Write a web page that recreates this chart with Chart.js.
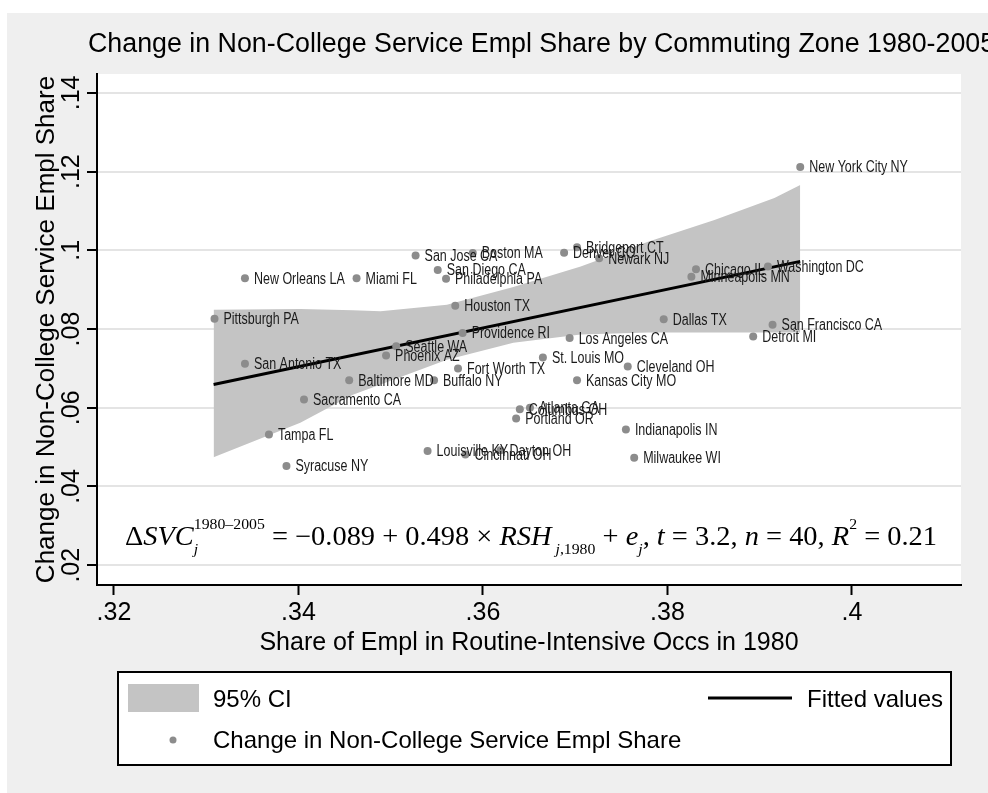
<!DOCTYPE html>
<html>
<head>
<meta charset="utf-8">
<script src="https://cdn.jsdelivr.net/npm/chart.js@4.4.1/dist/chart.umd.min.js"></script>
<style>
  html, body { margin: 0; padding: 0; background: #ffffff; }
  canvas { display: block; }
</style>
</head>
<body>
<canvas id="svcChart" width="988" height="793"></canvas>
<script>
// axis ticks
const xTicks = [0.32, 0.34, 0.36, 0.38, 0.40];
const xTickLabels = ['.32', '.34', '.36', '.38', '.4'];
const yTicks = [0.02, 0.04, 0.06, 0.08, 0.10, 0.12, 0.14];
const yTickLabels = ['.02', '.04', '.06', '.08', '.1', '.12', '.14'];

// commuting zones
const cityNames = [
  'Pittsburgh PA', 'New Orleans LA', 'Miami FL', 'San Antonio TX', 'Sacramento CA',
  'Baltimore MD', 'Buffalo NY', 'Phoenix AZ', 'Seattle WA', 'San Jose CA',
  'San Diego CA', 'Philadelphia PA', 'Boston MA', 'Houston TX', 'Providence RI',
  'Fort Worth TX', 'St. Louis MO', 'Los Angeles CA', 'Kansas City MO', 'Cleveland OH',
  'Dallas TX', 'Denver CO', 'Bridgeport CT', 'Newark NJ', 'Chicago IL',
  'Minneapolis MN', 'Washington DC', 'New York City NY', 'San Francisco CA', 'Detroit MI',
  'Tampa FL', 'Syracuse NY', 'Louisville KY', 'Cincinnati OH', 'Dayton OH',
  'Columbus OH', 'Atlanta GA', 'Portland OR', 'Indianapolis IN', 'Milwaukee WI'
];
const routineShare = [
  0.3309, 0.3342, 0.3463, 0.3342, 0.3406,
  0.3455, 0.3547, 0.3495, 0.3506, 0.3527,
  0.3551, 0.3560, 0.3589, 0.3570, 0.3578,
  0.3573, 0.3665, 0.3694, 0.3702, 0.3757,
  0.3796, 0.3688, 0.3702, 0.3726, 0.3831,
  0.3826, 0.3909, 0.3944, 0.3914, 0.3893,
  0.3368, 0.3387, 0.3540, 0.3581, 0.3619,
  0.3640, 0.3651, 0.3636, 0.3755, 0.3764
];
const serviceChange = [
  0.0826, 0.0929, 0.0929, 0.0712, 0.0621,
  0.0670, 0.0670, 0.0733, 0.0756, 0.0987,
  0.0950, 0.0928, 0.0993, 0.0859, 0.0790,
  0.0700, 0.0728, 0.0777, 0.0670, 0.0705,
  0.0825, 0.0994, 0.1008, 0.0980, 0.0952,
  0.0933, 0.0959, 0.1212, 0.0811, 0.0781,
  0.0532, 0.0452, 0.0490, 0.0481, 0.0492,
  0.0596, 0.0600, 0.0573, 0.0545, 0.0473
];

// fitted line and 95% CI band
const fitX = [0.3308, 0.3944];
const fitY = [0.0659, 0.0972];
const ciX     = [0.3308, 0.3402, 0.3459, 0.3489, 0.3561, 0.3633, 0.3706, 0.3779, 0.3851, 0.3916, 0.3944];
const ciUpper = [0.0849, 0.0851, 0.0848, 0.0845, 0.0862, 0.0907, 0.0959, 0.1022, 0.1077, 0.1133, 0.1166];
const ciLower = [0.0474, 0.0562, 0.0633, 0.0659, 0.0722, 0.0765, 0.0786, 0.0791, 0.0791, 0.0791, 0.0791];

const xMin = 0.31816, xMax = 0.41183;
const yMin = 0.01497, yMax = 0.1448;

const titleText = 'Change in Non-College Service Empl Share by Commuting Zone 1980-2005';
const xTitle = 'Share of Empl in Routine-Intensive Occs in 1980';
const yTitle = 'Change in Non-College Service Empl Share';

const sans = '"Liberation Sans", Arial, sans-serif';
const serif = '"Liberation Serif", "Times New Roman", serif';

function pts(xs, ys) {
  return xs.map(function(x, i) { return { x: x, y: ys[i] }; });
}

const pagePlugin = {
  id: 'page',
  beforeDraw: function(chart) {
    const c = chart.ctx, a = chart.chartArea;
    c.save();
    c.fillStyle = '#ffffff';
    c.fillRect(0, 0, chart.width, chart.height);
    c.fillStyle = '#efefef';
    c.fillRect(7, 13, chart.width - 7, chart.height - 13);
    c.fillStyle = '#ffffff';
    c.fillRect(a.left, a.top, a.right - a.left, a.bottom - a.top);
    c.restore();
  },
  afterDatasetsDraw: function(chart) {
    const c = chart.ctx, xs = chart.scales.x, ys = chart.scales.y;
    c.save();
    c.fillStyle = '#1a1a1a';
    c.font = '16px ' + sans;
    c.textBaseline = 'middle';
    cityNames.forEach(function(name, i) {
      const px = xs.getPixelForValue(routineShare[i]);
      const py = ys.getPixelForValue(serviceChange[i]);
      c.save();
      c.translate(px + 9, py + 1);
      c.scale(0.78, 1);
      c.fillText(name, 0, 0);
      c.restore();
    });
    c.restore();
  },
  afterDraw: function(chart) {
    const c = chart.ctx, a = chart.chartArea, ys = chart.scales.y;
    c.save();
    c.fillStyle = '#000';
    // title (runs off the right edge as in the original)
    c.font = '26.8px ' + sans;
    c.textAlign = 'left';
    c.textBaseline = 'alphabetic';
    c.fillText(titleText, 88, 52);
    // x title
    c.font = '25px ' + sans;
    c.textAlign = 'center';
    c.fillText(xTitle, (a.left + a.right) / 2, 650);
    // y title
    c.save();
    c.font = '26px ' + sans;
    c.translate(54, (a.top + a.bottom) / 2);
    c.rotate(-Math.PI / 2);
    c.fillText(yTitle, 0, 0);
    c.restore();
    // y tick labels (rotated as in Stata)
    c.font = '25px ' + sans;
    yTicks.forEach(function(v, i) {
      c.save();
      c.translate(79, ys.getPixelForValue(v));
      c.rotate(-Math.PI / 2);
      c.fillText(yTickLabels[i], 0, 0);
      c.restore();
    });
    // regression equation
    drawEquation(c, 125, 937, 545);
    // legend
    c.fillStyle = '#ffffff';
    c.fillRect(118, 672, 833, 93);
    c.strokeStyle = '#000';
    c.lineWidth = 2;
    c.strokeRect(118, 672, 833, 93);
    c.fillStyle = '#c4c4c4';
    c.fillRect(128, 684, 71, 28);
    c.beginPath();
    c.moveTo(708, 698);
    c.lineTo(792, 698);
    c.lineWidth = 3;
    c.strokeStyle = '#000';
    c.stroke();
    c.fillStyle = '#8c8c8c';
    c.beginPath();
    c.arc(173, 740, 3.5, 0, Math.PI * 2);
    c.fill();
    c.fillStyle = '#000';
    c.font = '24px ' + sans;
    c.textAlign = 'left';
    c.fillText('95% CI', 213, 707);
    c.fillText('Fitted values', 807, 707);
    c.fillText('Change in Non-College Service Empl Share', 213, 748);
    c.restore();
  }
};

function drawEquation(c, x0, x1, base) {
  const big = 27, small = 15;
  const parts = [
    { t: 'Δ' }, { t: 'SVC', i: 1 }, { sup: [['1980–2005']], sub: [['j', 1]] },
    { t: ' = −0.089 + 0.498 × ' }, { t: 'RSH', i: 1 }, { sub: [[' j', 1], [',1980']] },
    { t: ' + ' }, { t: 'e', i: 1 }, { sub: [['j', 1]] },
    { t: ', ' }, { t: 't', i: 1 }, { t: ' = 3.2, ' }, { t: 'n', i: 1 }, { t: ' = 40, ' },
    { t: 'R', i: 1 }, { sup: [['2']] }, { t: ' = 0.21' }
  ];
  function fontFor(size, ital) { return (ital ? 'italic ' : '') + size + 'px ' + serif; }
  function runWidth(run) {
    let w = 0;
    run.forEach(function(r) { c.font = fontFor(small, r[1]); w += c.measureText(r[0]).width; });
    return w;
  }
  let total = 0;
  parts.forEach(function(p) {
    if (p.t !== undefined) { c.font = fontFor(big, p.i); total += c.measureText(p.t).width; }
    else total += Math.max(p.sup ? runWidth(p.sup) : 0, p.sub ? runWidth(p.sub) : 0);
  });
  const k = (x1 - x0) / total;
  c.save();
  c.translate(x0, base);
  c.scale(k, 1);
  c.textAlign = 'left';
  c.textBaseline = 'alphabetic';
  c.fillStyle = '#000';
  let x = 0;
  function drawRun(run, xs, y) {
    run.forEach(function(r) { c.font = fontFor(small, r[1]); c.fillText(r[0], xs, y); xs += c.measureText(r[0]).width; });
  }
  parts.forEach(function(p) {
    if (p.t !== undefined) {
      c.font = fontFor(big, p.i);
      c.fillText(p.t, x, 0);
      x += c.measureText(p.t).width;
    } else {
      if (p.sup) drawRun(p.sup, x, -16);
      if (p.sub) drawRun(p.sub, x, 9);
      x += Math.max(p.sup ? runWidth(p.sup) : 0, p.sub ? runWidth(p.sub) : 0);
    }
  });
  c.restore();
}

new Chart(document.getElementById('svcChart'), {
  type: 'scatter',
  data: {
    datasets: [
      {
        label: 'ci lower',
        data: pts(ciX, ciLower),
        showLine: true,
        borderWidth: 0,
        pointRadius: 0,
        fill: false,
        order: 4
      },
      {
        label: '95% CI',
        data: pts(ciX, ciUpper),
        showLine: true,
        borderWidth: 0,
        pointRadius: 0,
        backgroundColor: '#c4c4c4',
        fill: '-1',
        order: 3
      },
      {
        label: 'Fitted values',
        data: pts(fitX, fitY),
        showLine: true,
        borderColor: '#000',
        borderWidth: 3,
        pointRadius: 0,
        fill: false,
        order: 2
      },
      {
        label: 'Change in Non-College Service Empl Share',
        data: pts(routineShare, serviceChange),
        pointRadius: 4,
        pointBackgroundColor: '#8c8c8c',
        pointBorderWidth: 0,
        order: 1
      }
    ]
  },
  options: {
    responsive: false,
    animation: false,
    layout: { padding: { left: 85, right: 27, top: 74, bottom: 148 } },
    plugins: { legend: { display: false }, tooltip: { enabled: false }, title: { display: false } },
    scales: {
      x: {
        type: 'linear',
        min: xMin,
        max: xMax,
        afterBuildTicks: function(s) { s.ticks = xTicks.map(function(v) { return { value: v }; }); },
        afterFit: function(s) { s.height = 60; },
        ticks: {
          callback: function(v) { return xTickLabels[xTicks.indexOf(v)]; },
          font: { family: sans, size: 25 },
          color: '#000',
          padding: 3,
          maxRotation: 0,
          minRotation: 0
        },
        grid: { drawOnChartArea: false, tickLength: 10, tickColor: '#000', tickWidth: 2 },
        border: { color: '#000', width: 2 }
      },
      y: {
        type: 'linear',
        min: yMin,
        max: yMax,
        afterBuildTicks: function(s) { s.ticks = yTicks.map(function(v) { return { value: v }; }); },
        afterFit: function(s) { s.width = 12; },
        ticks: { display: false },
        grid: { color: '#e4e4e4', lineWidth: 2, tickLength: 10, tickColor: '#000', tickWidth: 2 },
        border: { color: '#000', width: 2 }
      }
    }
  },
  plugins: [pagePlugin]
});
</script>
</body>
</html>
